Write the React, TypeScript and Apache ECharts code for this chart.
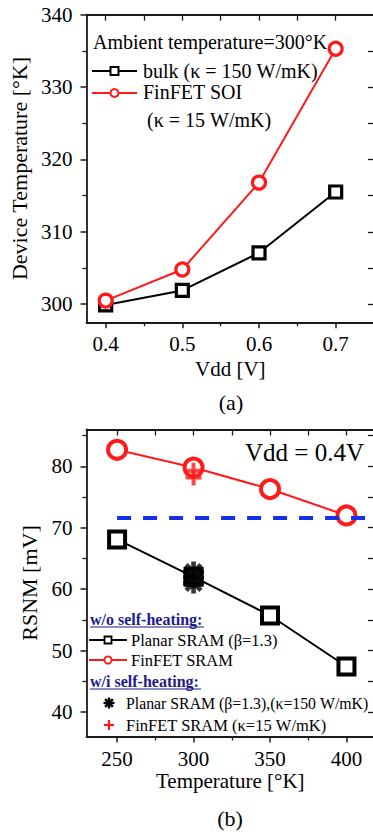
import React, { useEffect, useRef } from "react";
import * as echarts from "echarts";

// ---------- data ----------
const vddValues = [0.4, 0.5, 0.6, 0.7];
const bulkTemp = [299.9, 301.9, 307.1, 315.5];
const finfetSoiTemp = [300.5, 304.8, 316.8, 335.3];

const tempValues = [250, 300, 350, 400];
const planarRsnm = [68.1, 62.0, 55.7, 47.4];
const finfetRsnm = [82.7, 79.8, 76.3, 72.0];
const planarSelfHeatingX = [300, 300, 300];
const planarSelfHeatingRsnm = [62.8, 61.9, 61.0];
const finfetSelfHeatingX = [300, 300];
const finfetSelfHeatingRsnm = [79.3, 78.2];
const rsnmReferenceX = [250, 418];
const rsnmReference = [71.6, 71.6];

// ---------- ticks ----------
const topXTicks = [0.4, 0.5, 0.6, 0.7];
const topXMinor = [0.45, 0.55, 0.65];
const topXAll = [0.4, 0.45, 0.5, 0.55, 0.6, 0.65, 0.7];
const topYTicks = [300, 310, 320, 330, 340];
const topYMinor = [305, 315, 325, 335];
const topYAll = [300, 305, 310, 315, 320, 325, 330, 335];
const botXTicks = [250, 300, 350, 400];
const botXMinor = [275, 325, 375];
const botXAll = [250, 275, 300, 325, 350, 375, 400];
const botYTicks = [40, 50, 60, 70, 80];
const botYMinor = [45, 55, 65, 75, 85];
const botYAll = [40, 45, 50, 55, 60, 65, 70, 75, 80, 85];

const SERIF = '"Liberation Serif", "Times New Roman", serif';
const AXIS_COLOR = "#1a1a1a";
const RED = "#ff1a1a";
const NAVY = "#1c1c8c";

const zip = (xs: number[], ys: number[]) => xs.map((x, i) => [x, ys[i]]);

function baseAxis(gridIndex: number, min: number, max: number, position: string) {
  return {
    type: "value",
    gridIndex,
    min,
    max,
    position,
    splitLine: { show: false },
    axisLine: { show: false, onZero: false },
    axisTick: { show: false },
    axisLabel: { show: false },
  };
}

function mainAxis(
  gridIndex: number,
  min: number,
  max: number,
  position: string,
  ticks: number[],
  fmt: (v: number) => string,
  name: string,
  nameGap: number,
  labelMargin: number,
  nameSize: number
) {
  return {
    ...baseAxis(gridIndex, min, max, position),
    axisLine: { show: true, onZero: false, lineStyle: { color: AXIS_COLOR, width: 1.8 } },
    axisTick: {
      show: true,
      inside: false,
      length: 6,
      customValues: ticks,
      lineStyle: { color: AXIS_COLOR, width: 1.5 },
    },
    axisLabel: {
      show: true,
      customValues: ticks,
      formatter: fmt,
      fontFamily: SERIF,
      fontSize: 21,
      color: "#000",
      margin: labelMargin,
    },
    name,
    nameLocation: "middle",
    nameGap,
    nameTextStyle: { fontFamily: SERIF, fontSize: nameSize, color: "#000" },
  };
}

function minorAxis(gridIndex: number, min: number, max: number, position: string, ticks: number[]) {
  return {
    ...baseAxis(gridIndex, min, max, position),
    axisTick: {
      show: true,
      inside: false,
      length: 4,
      customValues: ticks,
      lineStyle: { color: AXIS_COLOR, width: 1.3 },
    },
  };
}

function mirrorAxis(gridIndex: number, min: number, max: number, position: string, ticks: number[]) {
  return {
    ...baseAxis(gridIndex, min, max, position),
    axisLine: { show: true, onZero: false, lineStyle: { color: AXIS_COLOR, width: 1.8 } },
    axisTick: {
      show: true,
      inside: true,
      length: 6,
      customValues: ticks,
      lineStyle: { color: AXIS_COLOR, width: 1.3 },
    },
  };
}

function txt(text: string, x: number, y: number, size: number, extra: any = {}) {
  return {
    type: "text",
    x,
    y,
    silent: true,
    style: {
      text,
      fontFamily: SERIF,
      fontSize: size,
      fill: "#000",
      align: "left",
      verticalAlign: "middle",
      ...extra,
    },
  };
}

function asteriskPolys(cx: number, cy: number, size: number) {
  const s = size / 20;
  const P = (pts: number[][]) => ({
    type: "polygon",
    silent: true,
    shape: { points: pts.map(([x, y]) => [cx + (x - 10) * s, cy + (y - 10) * s]) },
    style: { fill: "#000" },
  });
  return [
    P([[7.8, 0], [12.2, 0], [12.2, 20], [7.8, 20]]),
    P([[0, 7.8], [20, 7.8], [20, 12.2], [0, 12.2]]),
    P([[4.5, 1.4], [18.6, 15.5], [15.5, 18.6], [1.4, 4.5]]),
    P([[18.6, 4.5], [4.5, 18.6], [1.4, 15.5], [15.5, 1.4]]),
  ];
}

function plusLines(cx: number, cy: number, size: number, color: string, w: number) {
  const h = size / 2;
  return [
    { type: "line", silent: true, shape: { x1: cx - h, y1: cy, x2: cx + h, y2: cy }, style: { stroke: color, lineWidth: w } },
    { type: "line", silent: true, shape: { x1: cx, y1: cy - h, x2: cx, y2: cy + h }, style: { stroke: color, lineWidth: w } },
  ];
}

const ASTERISK_PATH =
  "path://M7.8,0L12.2,0L12.2,20L7.8,20ZM0,7.8L20,7.8L20,12.2L0,12.2ZM4.5,1.4L18.6,15.5L15.5,18.6L1.4,4.5ZM18.6,4.5L4.5,18.6L1.4,15.5L15.5,1.4Z";
const PLUS_PATH = "path://M7.5,0L12.5,0L12.5,20L7.5,20ZM0,7.5L20,7.5L20,12.5L0,12.5Z";

export default function App() {
  const ref = useRef<HTMLDivElement>(null);

  useEffect(() => {
    if (!ref.current) return;
    const chart = echarts.init(ref.current, null, { renderer: "svg", width: 380, height: 832 });

    const topXR = [0.375, 0.75];
    const topYR = [297.5, 340];
    const botXR = [230, 418];
    const botYR = [36, 86];

    const option: any = {
      animation: false,
      backgroundColor: "#fff",
      grid: [
        { left: 86.5, top: 14.7, width: 287.5, height: 307.6, containLabel: false },
        { left: 86.5, top: 429.5, width: 287.5, height: 307, containLabel: false },
      ],
      xAxis: [
        mainAxis(0, topXR[0], topXR[1], "bottom", topXTicks, (v: number) => v.toFixed(1), "Vdd [V]", 36, 11, 21),
        minorAxis(0, topXR[0], topXR[1], "bottom", topXMinor),
        mirrorAxis(0, topXR[0], topXR[1], "top", topXAll),
        mainAxis(1, botXR[0], botXR[1], "bottom", botXTicks, (v: number) => String(v), "Temperature [°K]", 34, 12, 21),
        minorAxis(1, botXR[0], botXR[1], "bottom", botXMinor),
        mirrorAxis(1, botXR[0], botXR[1], "top", botXAll),
      ],
      yAxis: [
        mainAxis(0, topYR[0], topYR[1], "left", topYTicks, (v: number) => String(v), "Device Temperature [°K]", 55, 14, 22),
        minorAxis(0, topYR[0], topYR[1], "left", topYMinor),
        mirrorAxis(0, topYR[0], topYR[1], "right", topYAll),
        mainAxis(1, botYR[0], botYR[1], "left", botYTicks, (v: number) => String(v), "RSNM [mV]", 44, 14, 22),
        minorAxis(1, botYR[0], botYR[1], "left", botYMinor),
        mirrorAxis(1, botYR[0], botYR[1], "right", botYAll),
      ],
      series: [
        {
          name: "bulk (κ = 150 W/mK)",
          type: "line",
          xAxisIndex: 0,
          yAxisIndex: 0,
          data: zip(vddValues, bulkTemp),
          symbol: "rect",
          symbolSize: 12,
          lineStyle: { color: "#000", width: 2 },
          itemStyle: { color: "#fff", borderColor: "#000", borderWidth: 3.2 },
          z: 3,
        },
        {
          name: "FinFET SOI",
          type: "line",
          xAxisIndex: 0,
          yAxisIndex: 0,
          data: zip(vddValues, finfetSoiTemp),
          symbol: "circle",
          symbolSize: 13,
          lineStyle: { color: RED, width: 2 },
          itemStyle: { color: "#fff", borderColor: RED, borderWidth: 3.2 },
          z: 4,
        },
        {
          name: "Planar SRAM (β=1.3)",
          type: "line",
          xAxisIndex: 3,
          yAxisIndex: 3,
          data: zip(tempValues, planarRsnm),
          symbol: "rect",
          symbolSize: 16,
          lineStyle: { color: "#000", width: 2 },
          itemStyle: { color: "#fff", borderColor: "#000", borderWidth: 4 },
          z: 3,
        },
        {
          name: "FinFET SRAM",
          type: "line",
          xAxisIndex: 3,
          yAxisIndex: 3,
          data: zip(tempValues, finfetRsnm),
          symbol: "circle",
          symbolSize: 18,
          lineStyle: { color: RED, width: 2 },
          itemStyle: { color: "#fff", borderColor: RED, borderWidth: 4 },
          z: 4,
        },
        {
          name: "Planar SRAM self-heating",
          type: "scatter",
          xAxisIndex: 3,
          yAxisIndex: 3,
          data: zip(planarSelfHeatingX, planarSelfHeatingRsnm),
          symbol: ASTERISK_PATH,
          symbolSize: 21,
          itemStyle: { color: "#000" },
          z: 6,
        },
        {
          name: "FinFET SRAM self-heating",
          type: "scatter",
          xAxisIndex: 3,
          yAxisIndex: 3,
          data: zip(finfetSelfHeatingX, finfetSelfHeatingRsnm),
          symbol: PLUS_PATH,
          symbolSize: 16,
          itemStyle: { color: RED },
          z: 6,
        },
        {
          name: "reference",
          type: "line",
          xAxisIndex: 3,
          yAxisIndex: 3,
          data: zip(rsnmReferenceX, rsnmReference),
          symbol: "none",
          lineStyle: { color: "#1430e8", width: 4, type: [14, 12] },
          z: 7,
        },
      ],
      graphic: [
        // top legend
        txt("Ambient temperature=300°K", 93, 42, 20),
        { type: "line", silent: true, shape: { x1: 92, y1: 71, x2: 137, y2: 71 }, style: { stroke: "#000", lineWidth: 2 } },
        { type: "rect", silent: true, shape: { x: 110.5, y: 67, width: 8, height: 8 }, style: { fill: "#fff", stroke: "#000", lineWidth: 2 } },
        txt("bulk (κ = 150 W/mK)", 143, 71, 20),
        { type: "line", silent: true, shape: { x1: 92, y1: 93, x2: 137, y2: 93 }, style: { stroke: RED, lineWidth: 2 } },
        { type: "circle", silent: true, shape: { cx: 114.5, cy: 93, r: 4 }, style: { fill: "#fff", stroke: RED, lineWidth: 2 } },
        txt("FinFET SOI", 143, 92, 20),
        txt("(κ = 15 W/mK)", 147, 120, 20),
        txt("(a)", 231, 402, 22, { align: "center" }),
        // bottom annotations
        txt("Vdd = 0.4V", 245, 452, 25),
        txt("w/o self-heating:", 90, 619, 16, { fontWeight: "bold", fill: NAVY }),
        { type: "line", silent: true, shape: { x1: 90, y1: 627, x2: 204, y2: 627 }, style: { stroke: NAVY, lineWidth: 1.2 } },
        { type: "line", silent: true, shape: { x1: 89, y1: 640, x2: 127, y2: 640 }, style: { stroke: "#000", lineWidth: 2 } },
        { type: "rect", silent: true, shape: { x: 104.5, y: 636.5, width: 7, height: 7 }, style: { fill: "#fff", stroke: "#000", lineWidth: 1.8 } },
        txt("Planar SRAM (β=1.3)", 131, 640, 16.5),
        { type: "line", silent: true, shape: { x1: 89, y1: 660, x2: 127, y2: 660 }, style: { stroke: RED, lineWidth: 2 } },
        { type: "circle", silent: true, shape: { cx: 108, cy: 660, r: 3.6 }, style: { fill: "#fff", stroke: RED, lineWidth: 1.8 } },
        txt("FinFET SRAM", 131, 660, 16.5),
        txt("w/i self-heating:", 90, 681, 16, { fontWeight: "bold", fill: NAVY }),
        { type: "line", silent: true, shape: { x1: 90, y1: 689, x2: 201, y2: 689 }, style: { stroke: NAVY, lineWidth: 1.2 } },
        ...asteriskPolys(109, 703, 11),
        txt("Planar SRAM (β=1.3),(κ=150 W/mK)", 126, 703, 15.8),
        ...plusLines(109, 725, 10, RED, 2.2),
        txt("FinFET SRAM (κ=15 W/mK)", 126, 725, 16.5),
        txt("(b)", 230, 818, 22, { align: "center" }),
      ],
    };

    chart.setOption(option);
    return () => chart.dispose();
  }, []);

  return (
    <div
      style={{
        position: "absolute",
        left: 0,
        top: 0,
        width: 373,
        height: 832,
        overflow: "hidden",
        background: "#fff",
      }}
    >
      <div ref={ref} style={{ width: 380, height: 832 }} />
    </div>
  );
}
